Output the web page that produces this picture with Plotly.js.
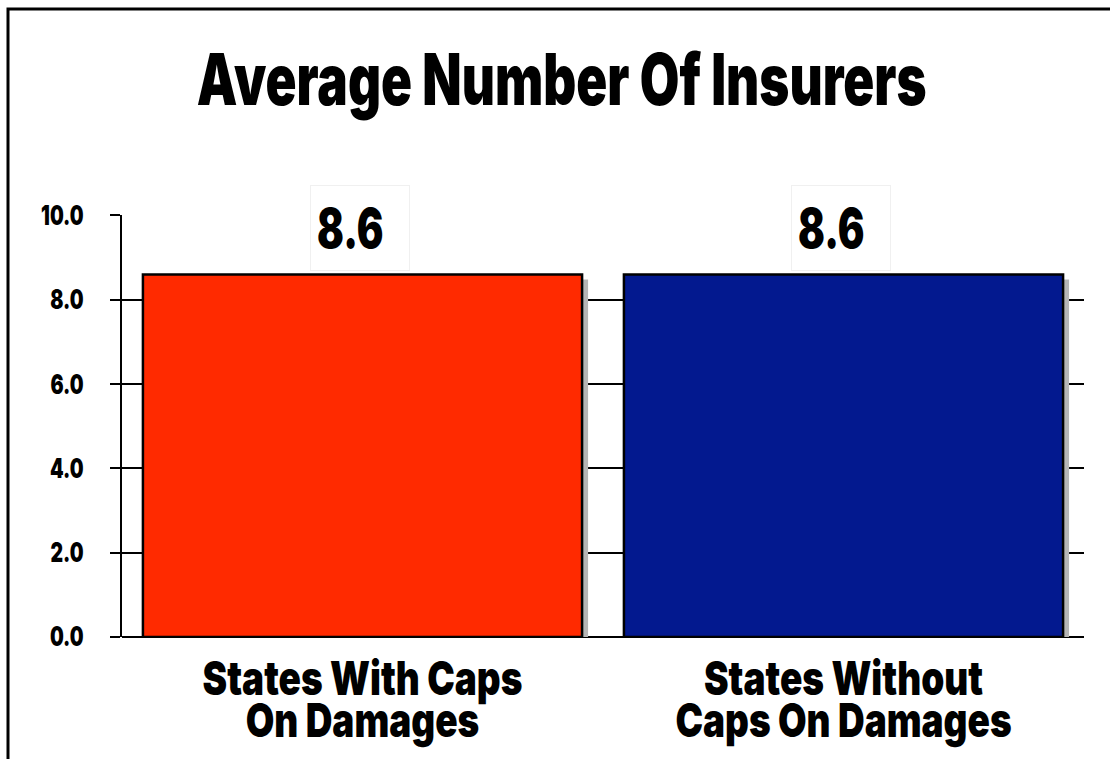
<!DOCTYPE html>
<html>
<head>
<meta charset="utf-8">
<script src="https://cdn.plot.ly/plotly-3.0.1.min.js"></script>
<style>
html,body{margin:0;padding:0;background:#fff;}
#chart{width:1110px;height:759px;}
</style>
</head>
<body>
<div id="chart"></div>
<script>
const categories = ["States With Caps<br>On Damages", "States Without<br>Caps On Damages"];
const values = [8.6, 8.6];
const barColors = ["#ff2a00", "#03198f"];
const yTickVals = [0, 2, 4, 6, 8, 10];
const yTickText = ["0.0", "2.0", "4.0", "6.0", "8.0", "10.0"];

const FONT = "Inter, Lato, 'Liberation Sans', sans-serif";
const barWidth = 0.913;
const pxPerCat = 962 / 2;

const shadow = {
  type: "bar",
  x: categories,
  y: values,
  base: values.map(() => -0.12),
  width: barWidth,
  offset: -barWidth / 2 + 6 / pxPerCat,
  marker: { color: "#b5b5b5", line: { width: 0 } },
  hoverinfo: "skip",
  showlegend: false
};

const bars = {
  type: "bar",
  x: categories,
  y: values,
  width: barWidth,
  marker: { color: barColors, line: { color: "#000", width: 2.5 } },
  hoverinfo: "skip",
  showlegend: false
};

const annotations = categories.map((c, i) => ({
  x: c, y: values[i], xref: "x", yref: "y",
  text: values[i].toFixed(1),
  showarrow: false,
  xanchor: "center", xshift: -2.5,
  yanchor: "bottom", yshift: 3,
  width: 86, height: 72,
  align: "left", borderpad: 6,
  bgcolor: "#ffffff",
  bordercolor: "#f0f0f0", borderwidth: 1,
  font: { family: FONT, size: 55, color: "#000", weight: 900 }
}));

const layout = {
  width: 1110, height: 759,
  margin: { l: 122, r: 26, t: 215, b: 122 },
  paper_bgcolor: "#fff", plot_bgcolor: "#fff",
  barmode: "overlay",
  title: {
    text: "Average Number Of Insurers",
    font: { family: FONT, size: 71, color: "#000", weight: 900 },
    x: 0.506, xanchor: "center",
    y: 0.895, yanchor: "middle"
  },
  xaxis: {
    type: "category",
    range: [-0.5, 1.5],
    showgrid: false, zeroline: false, showline: false,
    ticks: "",
    tickfont: { family: FONT, size: 47, color: "#000", weight: 900 },
    ticklabelstandoff: 10,
    fixedrange: true
  },
  yaxis: {
    range: [0, 10.01],
    tickvals: yTickVals,
    ticktext: yTickText,
    tickfont: { family: FONT, size: 27, color: "#000", weight: 900 },
    ticks: "outside", ticklen: 10, tickwidth: 2, tickcolor: "#000",
    showgrid: true, gridcolor: "#000", gridwidth: 2,
    zeroline: true, zerolinecolor: "#000", zerolinewidth: 2,
    showline: true, linecolor: "#000", linewidth: 2,
    ticklabelstandoff: 21,
    fixedrange: true
  },
  annotations: annotations,
  shapes: [{
    type: "rect", xref: "paper", yref: "paper",
    x0: -0.1185, x1: 1.2, y0: -0.5, y1: 1.488,
    line: { color: "#000", width: 3 }, fillcolor: "rgba(0,0,0,0)",
    layer: "above"
  }]
};

function condense(el, ratio) {
  const w = el.getComputedTextLength();
  if (w > 0) {
    el.setAttribute("textLength", (w * ratio).toFixed(2));
    el.setAttribute("lengthAdjust", "spacingAndGlyphs");
  }
}

Plotly.newPlot("chart", [shadow, bars], layout, { displayModeBar: false, staticPlot: true }).then(gd => {
  const titleEl = gd.querySelector(".gtitle");
  const ratio = titleEl ? 730 / titleEl.getComputedTextLength() : 0.65;
  if (titleEl) condense(titleEl, ratio);
  gd.querySelectorAll(".ytick text").forEach(t => condense(t, ratio));
  gd.querySelectorAll(".annotation-text").forEach(t => condense(t, ratio));
  const xRatio = ratio * 1.09;
  gd.querySelectorAll(".xtick text").forEach(t => {
    const lines = t.querySelectorAll("tspan.line");
    if (lines.length) {
      lines.forEach((ln, k) => {
        condense(ln, xRatio);
        if (k > 0) ln.setAttribute("dy", "0.9em");
      });
    } else {
      condense(t, xRatio);
    }
  });
});
</script>
</body>
</html>
